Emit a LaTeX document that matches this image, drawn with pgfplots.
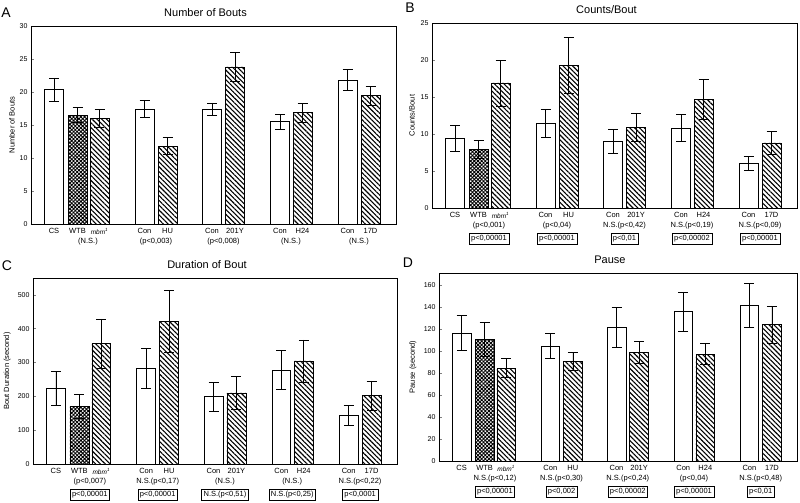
\documentclass[border=0pt]{standalone}
\usepackage{fontspec}
\setmainfont{Liberation Sans}
\usepackage{pgfplots}
\pgfplotsset{compat=1.18}
\usetikzlibrary{patterns.meta}

\tikzset{
  r2/.style={font=\fontsize{7.5}{8}\selectfont, yshift=-18pt, inner sep=0pt},
  r3/.style={font=\fontsize{7.5}{8}\selectfont, yshift=-31pt, draw, line width=0.5pt, inner sep=2pt},
  plet/.style={font=\fontsize{14}{15}\selectfont},
}
\pgfplotsset{
  panel/.style={
    scale only axis, xmin=0, xmax=365, ymin=0,
    clip=false,
    axis line style={line width=0.6pt},
    xtick={23,46.5,68.5,113.5,136.5,181,204,249,271.5,316.5,339.5},
    xticklabels={CS,WTB,{\fontsize{6.5}{7}\selectfont\itshape mbm\textsuperscript{1}},Con,HU,Con,201Y,Con,H24,Con,17D},
    x tick style={draw=none},
    xticklabel style={font=\fontsize{7.5}{8}\selectfont, inner sep=1.5pt},
    yticklabel style={font=\fontsize{7}{8}\selectfont},
    /pgf/number format/assume math mode=true,
    ytick pos=left, tick align=inside, major tick length=3pt,
    y tick style={line width=0.5pt},
    ylabel style={font=\fontsize{7.5}{8}\selectfont, anchor=center},
    title style={font=\fontsize{11}{12}\selectfont, xshift=-8pt},
    ybar, bar width=19, bar shift=0pt,
  },
  eb/.style={draw=black, line width=0.6pt,
    /pgfplots/error bars/y dir=both, /pgfplots/error bars/y explicit,
    /pgfplots/error bars/error bar style={line width=0.6pt, black},
    /pgfplots/error bars/error mark options={rotate=90, mark size=5pt, line width=0.6pt, black}},
  wbar/.style={fill=white, eb},
  cbar/.style={pattern={Hatch[angle=45, distance=2.6pt, line width=0.9pt]}, eb},
  hbar/.style={pattern={Lines[angle=-45, distance=3.4pt, line width=1.1pt]}, eb},
}

\begin{document}
\begin{tikzpicture}
\useasboundingbox (0,0) rectangle (800pt,-503pt);

\node[plet] at (6pt,-12.5pt) {A};
\node[plet] at (410pt,-8pt) {B};
\node[plet] at (7pt,-266pt) {C};
\node[plet] at (408pt,-263pt) {D};

% ---------- A ----------
\begin{axis}[panel, at={(31pt,-224pt)}, anchor=south west,
  width=365pt, height=198pt, ymax=30, ytick={0,5,...,30},
  title={Number of Bouts}, ylabel={Number of Bouts},
  ylabel style={at={(axis description cs:-0.052,0.5)}}]
\addplot[wbar] table[x=x,y=y,y error=e]{
x y e
23 20.4 1.75
113.5 17.4 1.3
181 17.4 0.95
249 15.5 1.15
316.5 21.8 1.6
};
\addplot[cbar] table[x=x,y=y,y error=e]{
x y e
46.5 16.5 1.15
};
\addplot[hbar] table[x=x,y=y,y error=e]{
x y e
68.5 16.0 1.35
136.5 11.8 1.3
204 23.8 2.2
271.5 16.85 1.4
339.5 19.45 1.4
};
\node[r2] at (axis cs:57,0) {(N.S.)};
\node[r2] at (axis cs:125,0) {(p<0,003)};
\node[r2] at (axis cs:192.5,0) {(p<0,008)};
\node[r2] at (axis cs:260,0) {(N.S.)};
\node[r2] at (axis cs:328,0) {(N.S.)};
\end{axis}

% ---------- B ----------
\begin{axis}[panel, at={(432pt,-208pt)}, anchor=south west,
  width=365pt, height=185pt, ymax=25, ytick={0,5,...,25},
  title={Counts/Bout}, ylabel={Counts/Bout},
  ylabel style={at={(axis description cs:-0.055,0.5)}}]
\addplot[wbar] table[x=x,y=y,y error=e]{
x y e
23 9.4 1.8
113.5 11.4 1.9
181 9.0 1.6
249 10.8 1.8
316.5 6.0 0.95
};
\addplot[cbar] table[x=x,y=y,y error=e]{
x y e
46.5 7.9 1.2
};
\addplot[hbar] table[x=x,y=y,y error=e]{
x y e
68.5 16.9 3.1
136.5 19.3 3.8
204 10.9 1.95
271.5 14.7 2.7
339.5 8.8 1.5
};
\node[r2] at (axis cs:57,0) {(p<0,001)};
\node[r2] at (axis cs:125,0) {(p<0,04)};
\node[r2] at (axis cs:192.5,0) {N.S.(p<0,42)};
\node[r2] at (axis cs:260,0) {N.S.(p<0,19)};
\node[r2] at (axis cs:328,0) {N.S.(p<0,09)};
\node[r3] at (axis cs:57,0) {p<0,00001};
\node[r3] at (axis cs:125,0) {p<0,00001};
\node[r3] at (axis cs:192.5,0) {p<0,01};
\node[r3] at (axis cs:260,0) {p<0,00002};
\node[r3] at (axis cs:328,0) {p<0,00001};
\end{axis}

% ---------- C ----------
\begin{axis}[panel, at={(33pt,-464pt)}, anchor=south west,
  width=364pt, height=186pt, ymax=550, ytick={0,100,...,500},
  title={Duration of Bout}, ylabel={Bout Duration (second)},
  ylabel style={at={(axis description cs:-0.071,0.5)}}]
\addplot[wbar] table[x=x,y=y,y error=e]{
x y e
23 224 50
113.5 283 58
181 199 42
249 278 57
316.5 144 30
};
\addplot[cbar] table[x=x,y=y,y error=e]{
x y e
46.5 171 35
};
\addplot[hbar] table[x=x,y=y,y error=e]{
x y e
68.5 356 73
136.5 421 92
204 210 48
271.5 305 62
339.5 203 43
};
\node[r2] at (axis cs:57,0) {(p<0,007)};
\node[r2] at (axis cs:125,0) {N.S.(p<0,17)};
\node[r2] at (axis cs:192.5,0) {(N.S.)};
\node[r2] at (axis cs:260,0) {(N.S.)};
\node[r2] at (axis cs:328,0) {N.S.(p<0,22)};
\node[r3] at (axis cs:57,0) {p<0,00001};
\node[r3] at (axis cs:125,0) {p<0,00001};
\node[r3] at (axis cs:192.5,0) {N.S.(p<0,51)};
\node[r3] at (axis cs:260,0) {N.S.(p<0,25)};
\node[r3] at (axis cs:328,0) {p<0,0001};
\end{axis}

% ---------- D ----------
\begin{axis}[panel, at={(439pt,-461pt)}, anchor=south west,
  width=358pt, height=188pt, ymax=171, ytick={0,20,...,160},
  title={Pause}, ylabel={Pause (second)},
  ylabel style={at={(axis description cs:-0.073,0.5)}}]
\addplot[wbar] table[x=x,y=y,y error=e]{
x y e
23 116.5 16
113.5 104.5 11.5
181 121.5 18.5
249 135.8 18
316.5 141.5 20
};
\addplot[cbar] table[x=x,y=y,y error=e]{
x y e
46.5 110.3 15.5
};
\addplot[hbar] table[x=x,y=y,y error=e]{
x y e
68.5 84.5 8.5
136.5 90.5 8.2
204 98.7 10
271.5 97.2 9.6
339.5 124 17
};
\node[r2] at (axis cs:57,0) {N.S.(p<0,12)};
\node[r2] at (axis cs:125,0) {N.S.(p<0,30)};
\node[r2] at (axis cs:192.5,0) {N.S.(p<0,24)};
\node[r2] at (axis cs:260,0) {(p<0,04)};
\node[r2] at (axis cs:328,0) {N.S.(p<0,48)};
\node[r3] at (axis cs:57,0) {p<0,00001};
\node[r3] at (axis cs:125,0) {p<0,002};
\node[r3] at (axis cs:192.5,0) {p<0,00002};
\node[r3] at (axis cs:260,0) {p<0,00001};
\node[r3] at (axis cs:328,0) {p<0,01};
\end{axis}
\end{tikzpicture}
\end{document}
